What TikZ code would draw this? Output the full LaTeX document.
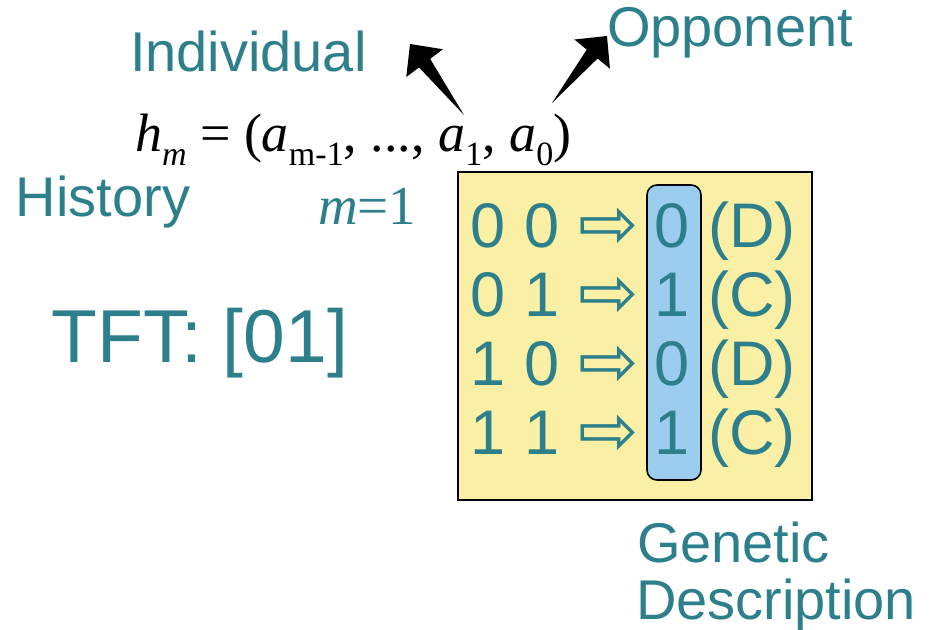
\documentclass[tikz,border=0pt]{standalone}
\usepackage{fontspec}
\setmainfont{Liberation Sans}
\newfontfamily\serif{Liberation Serif}
\newfontfamily\arrowfont{DejaVu Sans}
\usetikzlibrary{calc}
\definecolor{label}{RGB}{45,127,140}
\definecolor{genome}{RGB}{250,240,165}
\definecolor{gene}{RGB}{157,205,238}
\tikzset{every node/.style={inner sep=0pt, outer sep=0pt},
  lbl/.style={text=label, font=\fontsize{28}{30}\selectfont, anchor=base west},
  cell/.style={text=label, font=\fontsize{31.5}{34}\selectfont, anchor=base}}
\newcommand{\lsub}[1]{\raisebox{-0.25em}{\fontsize{17}{17}\selectfont #1}}
% tapered arrow, thin at the tail and with a broad head at the tip
\newcommand{\wedgearrow}[2]{%
  \fill (#1) -- ($(#1)!0.73!(#2)!3.5pt!90:(#2)$) -- ($(#1)!0.73!(#2)!11.5pt!90:(#2)$) -- (#2)
    -- ($(#1)!0.73!(#2)!11.5pt!-90:(#2)$) -- ($(#1)!0.73!(#2)!3.5pt!-90:(#2)$) -- cycle;}

\begin{document}
\begin{tikzpicture}[x=0.5pt,y=-0.5pt]
  \useasboundingbox (0,0) rectangle (933,630);
  % strategy table
  \node[draw, line width=1pt, fill=genome, minimum width=177pt, minimum height=164pt] (table) at (635,336) {};
  \node[draw, line width=0.8pt, fill=gene, rounded corners=5pt, minimum width=27pt, minimum height=147.5pt] (column) at (674,332.5) {};
  \foreach \i/\hi/\hj/\out/\act in {0/0/0/0/D,1/0/1/1/C,2/1/0/0/D,3/1/1/1/C}{
    \node[cell] (hi\i) at (488,{248+69*\i}) {\hi};
    \node[cell] (hj\i) at (542,{248+69*\i}) {\hj};
    \node[cell, font=\arrowfont\fontsize{36}{38}\selectfont] (to\i) at (609,{249+69*\i}) {⇨};
    \node[cell] (out\i) at (672,{248+69*\i}) {\out};
    \node[cell] (act\i) at (752,{248+69*\i}) {(\act)};
  }
  % labels
  \node[lbl] (individual) at (130,72) {Individual};
  \node[lbl] (opponent) at (607,47) {Opponent};
  \node[lbl] (history) at (16,217) {History};
  \node[lbl, font=\fontsize{37.5}{40}\selectfont] (tft) at (52,363) {TFT: [01]};
  \node[lbl] (genetic) at (637,563) {Genetic};
  \node[lbl] (description) at (636,620) {Description};
  \node[lbl, font=\serif\fontsize{27.5}{30}\selectfont] (memory) at (318,225) {\textit{m}=1};
  \node[anchor=base west, font=\serif\fontsize{27}{30}\selectfont] (formula) at (135,152)
    {\textit{h}\lsub{\textit{m}} = (\textit{a}\lsub{m-1}, ..., \textit{a}\lsub{1}, \textit{a}\lsub{0})};
  % who made each move
  \coordinate (a1) at (464,115);
  \coordinate (a1up) at (410,44);
  \coordinate (a0) at (552,103);
  \coordinate (a0up) at (607,36);
  \wedgearrow{a1}{a1up}
  \wedgearrow{a0}{a0up}
\end{tikzpicture}
\end{document}
